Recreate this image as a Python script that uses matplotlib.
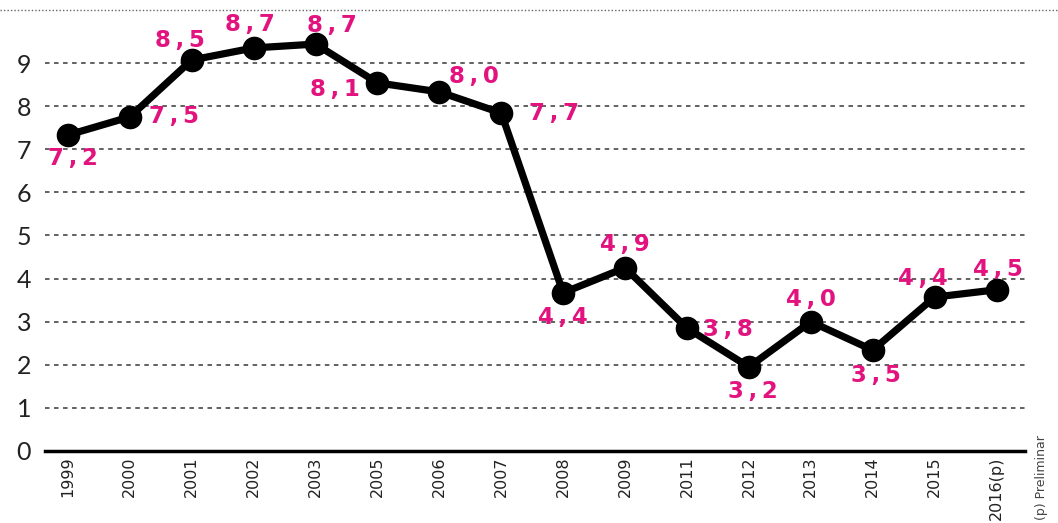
import matplotlib
matplotlib.use("Agg")
import matplotlib.pyplot as plt
from matplotlib.lines import Line2D

# ---------------- data ----------------
years = ["1999", "2000", "2001", "2002", "2003", "2005", "2006", "2007",
         "2008", "2009", "2011", "2012", "2013", "2014", "2015", "2016(p)"]
values = [7.33, 7.75, 9.07, 9.35, 9.44, 8.54, 8.33, 7.84,
          3.67, 4.25, 2.85, 1.95, 3.0, 2.34, 3.57, 3.74]
labels = ["7,2", "7,5", "8,5", "8,7", "8,7", "8,1", "8,0", "7,7",
          "4,4", "4,9", "3,8", "3,2", "4,0", "3,5", "4,4", "4,5"]
# label offsets in pixels (dx, dy) relative to each point
offsets = [(5, -23), (44, 0), (-12, 20), (-4, 23), (16, 19), (-43, -7),
           (35, 15), (53, 0), (0, -25), (0, 23), (41, -1), (4, -25),
           (0, 22), (3, -25), (-12, 19), (1, 20)]

MAGENTA = "#e2137f"

fig = plt.figure(figsize=(10.58, 5.23), dpi=100)
ax = fig.add_axes([45 / 1058, 1 - 451 / 523, 980 / 1058, 441 / 523])

x = list(range(len(years)))
ax.plot(x, values, color="black", lw=5.2, marker="o", ms=16,
        solid_joinstyle="round", zorder=3)

for i, (lab, off) in enumerate(zip(labels, offsets)):
    # wide tracking like the original
    spaced = "\u2009".join(lab)
    ax.annotate(spaced, (x[i], values[i]), xytext=off, textcoords="offset pixels",
                ha="center", va="center", color=MAGENTA, fontsize=16.5,
                fontweight="bold", family="DejaVu Sans", zorder=4)

ax.set_xlim(-0.37, 15.46)
ax.set_ylim(0, 10.23)
ax.set_yticks(range(0, 10))
ax.set_xticks(x)
ax.set_xticklabels(years, rotation=90, fontsize=11.5, color="#222222",
                   family=["Liberation Sans Narrow", "DejaVu Sans"])
for t in ax.get_yticklabels():
    t.set_family(["Lato", "DejaVu Sans"])
    t.set_fontsize(18)
    t.set_color("#222222")
ax.tick_params(length=0)
ax.tick_params(axis="y", pad=10)
ax.tick_params(axis="x", pad=4)

for v in range(1, 10):
    ax.axhline(v, color="#555555", lw=1.3, ls=(0, (2.5, 2.5)), zorder=1)

for s in ["top", "right", "left"]:
    ax.spines[s].set_visible(False)
ax.spines["bottom"].set_linewidth(2.5)

# thin dotted line at the very top of the figure
fig.add_artist(Line2D([0, 1], [1 - 10 / 523, 1 - 10 / 523], transform=fig.transFigure,
                      color="#666666", lw=1, ls=(0, (1, 1.5))))

fig.text(1042 / 1058, 1 - 478 / 523, "(p) Preliminar", rotation=90,
         ha="center", va="center", fontsize=9, color="#444444",
         family=["Liberation Sans Narrow", "DejaVu Sans"])

fig.savefig("out.png", dpi=100)
